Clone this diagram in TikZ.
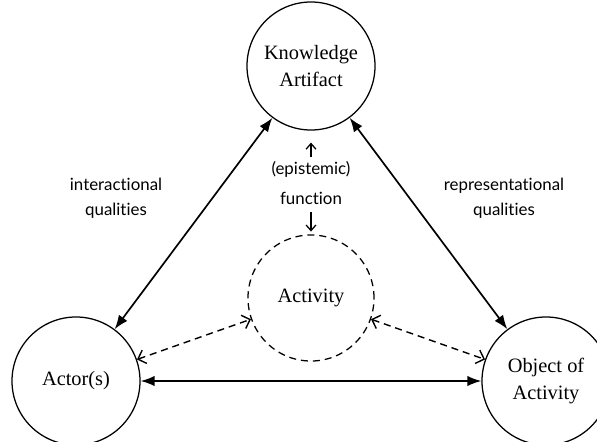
\documentclass[tikz,border=0pt]{standalone}
\usepackage{fontspec}
\setmainfont{Liberation Serif}
\newfontfamily\handfont[Ligatures=NoCommon]{Lato}
\usetikzlibrary{arrows.meta,positioning}
\tikzset{
    corner/.style={circle, draw, line width=0.9pt, minimum size=3.2cm, inner sep=0pt,
        align=center, font=\fontsize{14.5}{19}\selectfont},
    hub/.style={corner, dash pattern=on 5pt off 3.5pt, minimum size=3.15cm},
    link/.style={line width=1.2pt, {Latex[length=10pt,width=7.5pt]}-{Latex[length=10pt,width=7.5pt]}},
    dlink/.style={line width=1pt, dash pattern=on 5pt off 3.5pt,
        {Straight Barb[length=5pt,width=10pt]}-{Straight Barb[length=5pt,width=10pt]}},
    fnlink/.style={line width=0.9pt, -{Straight Barb[length=4pt,width=7pt]}},
    note/.style={align=center, font=\handfont\fontsize{12}{17.8}\selectfont}
}

\begin{document}
\begin{tikzpicture}[x=0.025cm, y=-0.025cm]
    \useasboundingbox (0,0) rectangle (597,441);

    % Draw the circles.
    \node[corner] (art) at (311,66) {Knowledge\\Artifact};
    \node[corner] (act) at (76,381) {Actor(s)};
    \node[corner] (obj) at (546,381) {Object of\\Activity};
    \node[hub] (hub) at (311,298) {Activity};

    % Draw the labels.
    \node[note] (inter) at (116,198) {interactional\\qualities};
    \node[note] (repr) at (504,198) {representational\\qualities};
    \node[note, font=\handfont\fontsize{12}{21}\selectfont] (func) at (311,183) {(epistemic)\\function};

    % Draw the links.
    \draw[link] (art) -- (act);
    \draw[link] (art) -- (obj);
    \draw[link] (act) -- (obj);
    \draw[dlink] (act) -- (hub);
    \draw[dlink] (hub) -- (obj);
    \draw[fnlink, shorten >=8.5pt] (func) -- (art);
    \draw[fnlink, shorten <=2pt, shorten >=2pt] (func) -- (hub);

\end{tikzpicture}
\end{document}
